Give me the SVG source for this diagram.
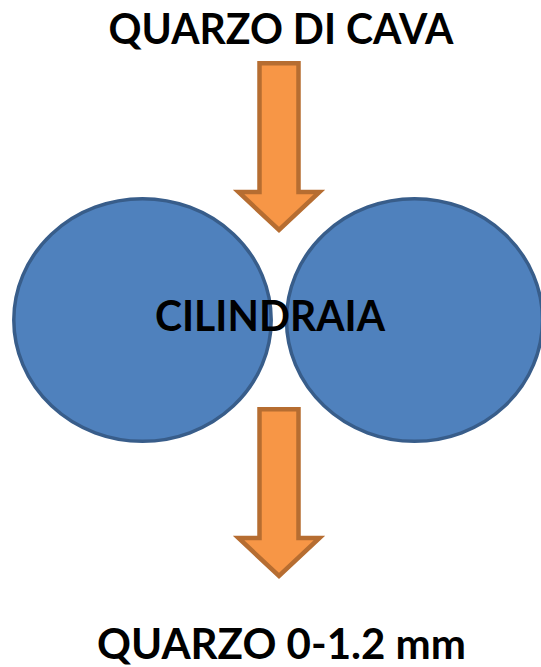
<svg xmlns="http://www.w3.org/2000/svg" width="541" height="667" viewBox="0 0 541 667">
<style>
.lbl{font-family:Lato,"Liberation Sans",Arial,sans-serif;font-weight:bold;fill:#000;text-anchor:middle}
.roll{fill:#4F81BD;stroke:#385D8A;stroke-width:3.5}
.arrow{fill:#F79646;stroke:#B66D31;stroke-width:4.5;stroke-linejoin:miter;stroke-miterlimit:10}
</style>
<defs>
<path id="downArrow" d="M259.5,63.3 H298.5 V192 H319.5 L279,230 L238.5,192 H259.5 Z"/>
</defs>
<rect width="541" height="667" fill="#fff"/>
<g id="title">
<text class="lbl" x="281" y="44" font-size="42" textLength="345" lengthAdjust="spacingAndGlyphs">QUARZO DI CAVA</text>
</g>
<g id="cilindraia">
<ellipse class="roll" cx="142.5" cy="320" rx="128.7" ry="121.3"/>
<ellipse class="roll" cx="414.5" cy="320" rx="128" ry="121.3"/>
<text class="lbl" x="270" y="331" font-size="42" textLength="230" lengthAdjust="spacingAndGlyphs">CILINDRAIA</text>
</g>
<g id="connectors">
<use href="#downArrow" class="arrow"/>
<use href="#downArrow" class="arrow" transform="translate(0,346)"/>
</g>
<g id="output">
<text class="lbl" x="281.5" y="659" font-size="42" textLength="369" lengthAdjust="spacingAndGlyphs">QUARZO 0-1.2 mm</text>
</g>
</svg>
